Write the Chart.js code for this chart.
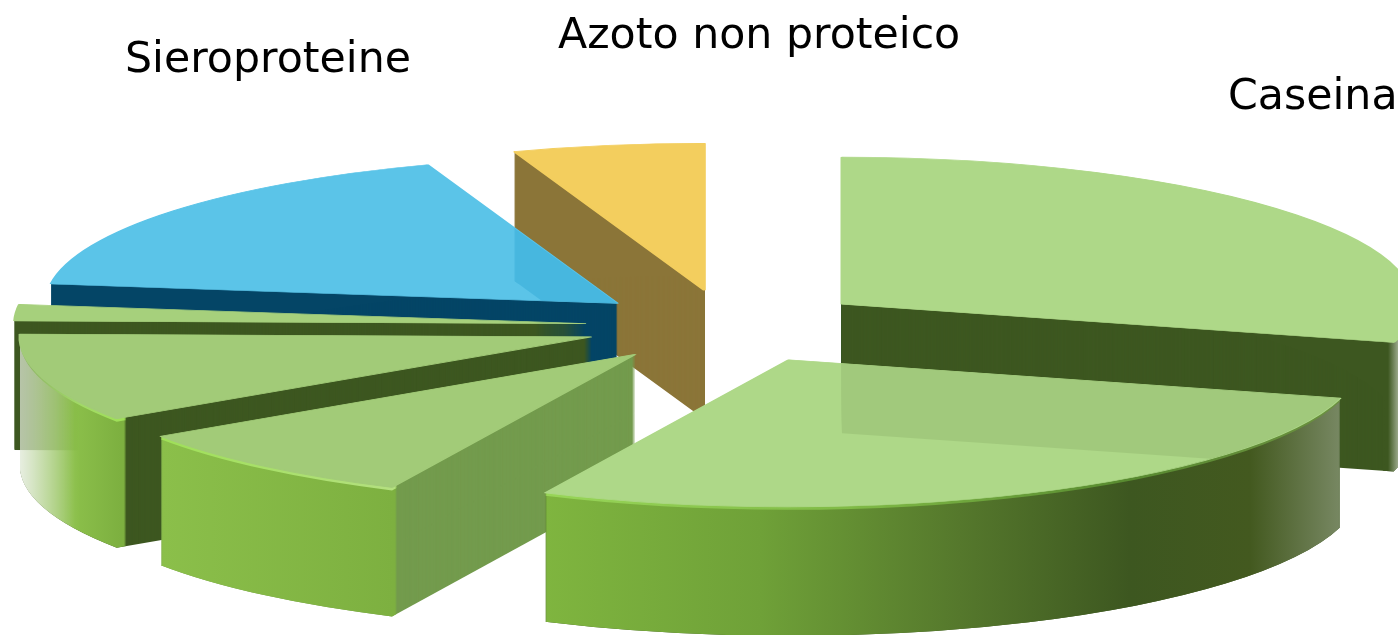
<!DOCTYPE html>
<html>
<head>
<meta charset="utf-8">
<style>
  html, body { margin: 0; background: #fff; overflow: hidden; }
  canvas { display: block; }
</style>
</head>
<body>
<canvas id="myChart" width="1398" height="635"></canvas>
<script src="https://cdn.jsdelivr.net/npm/chart.js@4"></script>
<script>
// slices clockwise from 12 o'clock, percent
const sliceNames = ['Caseina', 'Caseina', 'Caseina', 'Caseina', 'Caseina', 'Sieroproteine', 'Azoto non proteico']
const sliceValues = [29.2, 27.8, 8.6, 9.7, 1.8, 17.5, 5.4]
const captions = ['Sieroproteine', 'Azoto non proteico', 'Caseina']

const topColors = ['#aed888', '#aed888', '#a2cb78', '#a2cb78', '#a6d07c', '#5bc4e8', '#f3ce5e']
const wallColors = ['#3d5720', '#3d5720', '#739b4d', '#3d5720', '#3d5720', '#044566', '#8b7538']
// rim gradient stops [page x, colour] per slice
const rimStops = [
  [[843, '#3d5720'], [1388, '#3d5720'], [1398, '#9aa88a']],
  [[545, '#7fb53f'], [760, '#6fa138'], [960, '#55782c'], [1130, '#3d5720'], [1250, '#43591f'], [1345, '#7a8a66']],
  [[163, '#8bbf4a'], [393, '#7db040']],
  [[20, '#dfe8d6'], [75, '#8bbf4a'], [120, '#7db040']],
  [[15, '#3d5720'], [30, '#3d5720']],
  [[50, '#044566'], [700, '#044566']],
  [[512, '#8b7538'], [704, '#8b7538']]
]
const edgeStops = [
  null,
  [[545, '#98d658'], [850, '#80ba46'], [1130, '#588a30'], [1340, '#6b9040']],
  [[163, '#9fe058'], [393, '#b4e080']],
  [[20, '#a6d07c'], [120, '#9fe058']],
  null, null, null
]

// draw order back to front
const paintOrder = [6, 5, 4, 3, 2, 0, 1]
const captionFont = '42.7px "DejaVu Sans"'
const captionSpots = [[125, 72], [558, 48], [1228, 109]]

const pie = { x: 728.5, y: 326.5, sx: 1.905, sy: 0.49, depth: 129, explode: 75 }

function place(ctx, arc, drop) {
  const mid = (arc.startAngle + arc.endAngle) / 2
  ctx.translate(pie.x + Math.cos(mid) * pie.explode * pie.sx, pie.y + Math.sin(mid) * pie.explode * pie.sy + drop)
  ctx.scale(pie.sx, pie.sy)
  ctx.translate(-arc.x, -arc.y)
}

function paintArc(ctx, arc, fill, drop, ring, outline) {
  const keepOptions = arc.options
  const keepInner = arc.innerRadius
  arc.options = Object.assign({}, keepOptions, {
    backgroundColor: fill,
    borderColor: fill,
    borderWidth: outline || 0
  })
  arc.innerRadius = ring ? arc.outerRadius - ring : 0
  ctx.save()
  place(ctx, arc, drop)
  arc.draw(ctx)
  ctx.restore()
  arc.options = keepOptions
  arc.innerRadius = keepInner
}

// gradient in the arc's own units so it lands on the page x values
function sideGradient(ctx, arc, stops) {
  const mid = (arc.startAngle + arc.endAngle) / 2
  const left = pie.x + Math.cos(mid) * pie.explode * pie.sx
  const toLocal = px => (px - left) / pie.sx + arc.x
  const first = stops[0][0]
  const last = stops[stops.length - 1][0]
  const g = ctx.createLinearGradient(toLocal(first), 0, toLocal(last), 0)
  stops.forEach(s => g.addColorStop((s[0] - first) / (last - first), s[1]))
  return g
}

function extrude(chart, arc, i) {
  const layer = document.createElement('canvas')
  layer.width = chart.width
  layer.height = chart.height
  const c = layer.getContext('2d')
  for (let d = pie.depth; d >= 1; d--) {
    paintArc(c, arc, wallColors[i], d, 0)
  }
  const rim = sideGradient(c, arc, rimStops[i])
  for (let d = pie.depth; d >= 1; d--) {
    paintArc(c, arc, rim, d, 6)
  }
  if (edgeStops[i]) {
    const edge = sideGradient(c, arc, edgeStops[i])
    for (let d = 3; d >= 1; d--) {
      paintArc(c, arc, edge, d, 6)
    }
  }
  return layer
}

function fadeLeft(layer) {
  const c = layer.getContext('2d')
  const g = c.createLinearGradient(20, 0, 80, 0)
  g.addColorStop(0, 'rgba(0,0,0,0.75)')
  g.addColorStop(1, 'rgba(0,0,0,1)')
  c.globalCompositeOperation = 'destination-in'
  c.fillStyle = g
  c.fillRect(0, 0, layer.width, layer.height)
}

// what shows faintly through a top face lying over another slice's wall
function ghost(ctx, layer, arc, tint, amount) {
  const c = layer.getContext('2d')
  c.globalCompositeOperation = 'destination-in'
  paintArc(c, arc, '#000', 0, 0)
  c.globalCompositeOperation = 'source-in'
  c.fillStyle = tint
  c.fillRect(0, 0, layer.width, layer.height)
  ctx.globalAlpha = amount
  ctx.drawImage(layer, 0, 0)
  ctx.globalAlpha = 1
}

const solidPie = {
  id: 'solidPie',
  beforeDatasetsDraw(chart) {
    const ctx = chart.ctx
    const arcs = chart.getDatasetMeta(0).data
    const layers = {}
    paintOrder.forEach(i => {
      const layer = extrude(chart, arcs[i], i)
      layers[i] = layer
      // the left end of this rim melts away
      if (i === 3) fadeLeft(layer)
      ctx.drawImage(layer, 0, 0)
      // thin outline hides the wall's edge peeking out beside the top face
      paintArc(ctx, arcs[i], topColors[i], 0, 0, 1.5)
      if (i === 5) ghost(ctx, layers[6], arcs[5], '#2fa8d6', 0.45)
      if (i === 1) ghost(ctx, layers[0], arcs[1], '#3d5720', 0.11)
    })
    return false
  },
  afterDraw(chart) {
    const ctx = chart.ctx
    ctx.save()
    ctx.font = captionFont
    ctx.fillStyle = '#000'
    ctx.textAlign = 'left'
    ctx.textBaseline = 'alphabetic'
    captions.forEach((t, i) => ctx.fillText(t, captionSpots[i][0], captionSpots[i][1]))
    ctx.restore()
  }
}

new Chart(document.getElementById('myChart'), {
  type: 'pie',
  data: {
    labels: sliceNames,
    datasets: [{
      data: sliceValues,
      backgroundColor: topColors,
      borderWidth: 0
    }]
  },
  options: {
    responsive: false,
    animation: false,
    radius: 300,
    layout: { padding: 0 },
    plugins: { legend: { display: false }, tooltip: { enabled: false } }
  },
  plugins: [solidPie]
})
</script>
</body>
</html>
